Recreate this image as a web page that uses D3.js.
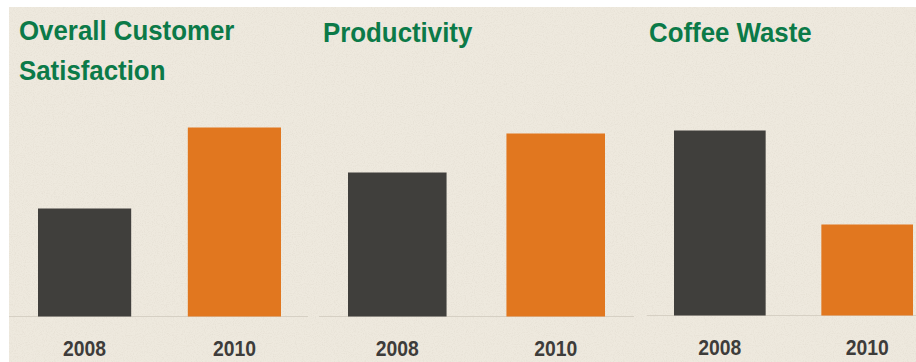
<!DOCTYPE html>
<html>
<head>
<meta charset="utf-8">
<script src="https://cdn.jsdelivr.net/npm/d3@7"></script>
<style>
  html, body { margin: 0; padding: 0; background: #ffffff; }
  svg { display: block; }
</style>
</head>
<body>
<svg id="chart" width="916" height="362"></svg>
<script>
// Panel titles (one entry per line)
const titles = [
  ["Overall Customer", "Satisfaction"],
  ["Productivity"],
  ["Coffee Waste"]
];
// Year categories shared by every panel
const years = ["2008", "2010"];
// Index values per panel, in year order
const satisfaction = [54, 94.5];
const productivity = [72, 91.5];
const coffeeWaste = [92.5, 45.5];
const seriesValues = [satisfaction, productivity, coffeeWaste];

const W = 916, H = 362;
const svg = d3.select("#chart");

// Paper-like backdrop with faint speckle
const defs = svg.append("defs");
const noise = defs.append("filter").attr("id", "paper")
  .attr("x", 0).attr("y", 0).attr("width", "100%").attr("height", "100%");
noise.append("feTurbulence").attr("type", "fractalNoise")
  .attr("baseFrequency", 0.9).attr("numOctaves", 2).attr("seed", 7).attr("result", "n");
noise.append("feColorMatrix").attr("in", "n").attr("type", "matrix")
  .attr("values", "0 0 0 0 0.55  0 0 0 0 0.50  0 0 0 0 0.42  0 0 0 -2.2 1.25")
  .attr("result", "speck");
noise.append("feComposite").attr("in", "speck").attr("in2", "SourceGraphic").attr("operator", "in");

const bgX = 9, bgY = 7;
svg.append("rect").attr("x", bgX).attr("y", bgY)
  .attr("width", W - bgX).attr("height", H - bgY).attr("fill", "#eee9de");
svg.append("rect").attr("x", bgX).attr("y", bgY)
  .attr("width", W - bgX).attr("height", H - bgY).attr("fill", "#eee9de")
  .attr("filter", "url(#paper)").attr("opacity", 0.18);

// Panel layout: bar span, baseline span, baseline y, title position
const panels = [
  { bars: [38, 281], base: [9, 308], baseY: 316.5, titleX: 19, titleY: 40 },
  { bars: [348, 605], base: [319, 634], baseY: 316.5, titleX: 323, titleY: 41.5 },
  { bars: [674, 913], base: [647, 916], baseY: 315.5, titleX: 649, titleY: 41.5 }
];

// Shared value scale (bar heights in px)
const y = d3.scaleLinear().domain([0, 100]).range([0, 200]);
const color = d3.scaleOrdinal().domain(years).range(["#403f3c", "#e1771f"]);

panels.forEach((p, i) => {
  const g = svg.append("g");
  const x = d3.scaleBand().domain(years).range(p.bars)
    .paddingInner(0.378).paddingOuter(0);

  // baseline rule
  g.append("line")
    .attr("x1", p.base[0]).attr("x2", p.base[1])
    .attr("y1", p.baseY).attr("y2", p.baseY)
    .attr("stroke", "#d6d0c4").attr("stroke-width", 1);

  const data = years.map((yr, j) => ({ year: yr, value: seriesValues[i][j] }));

  g.selectAll("rect.bar").data(data).join("rect")
    .attr("class", "bar")
    .attr("x", d => x(d.year))
    .attr("width", x.bandwidth())
    .attr("y", d => p.baseY - y(d.value))
    .attr("height", d => y(d.value))
    .attr("fill", d => color(d.year));

  // year labels under the bars (condensed bold)
  g.selectAll("text.year").data(data).join("text")
    .attr("class", "year")
    .attr("transform", d => `translate(${x(d.year) + x.bandwidth() / 2},${p.baseY + 39}) scale(0.86,1)`)
    .attr("text-anchor", "middle")
    .attr("font-family", "'Liberation Sans', Arial, sans-serif")
    .attr("font-weight", "bold")
    .attr("font-size", 22.5)
    .attr("fill", "#3d3c3a")
    .text(d => d.year);

  // title
  const t = g.append("text")
    .attr("transform", `translate(${p.titleX},${p.titleY}) scale(0.94,1)`)
    .attr("font-family", "'Liberation Sans', Arial, Helvetica, sans-serif")
    .attr("font-weight", "bold")
    .attr("font-size", 27.5)
    .attr("fill", "#0b7a48");
  titles[i].forEach((line, k) => {
    t.append("tspan").attr("x", 0).attr("dy", k === 0 ? 0 : 40 ).text(line);
  });
});
</script>
</body>
</html>
